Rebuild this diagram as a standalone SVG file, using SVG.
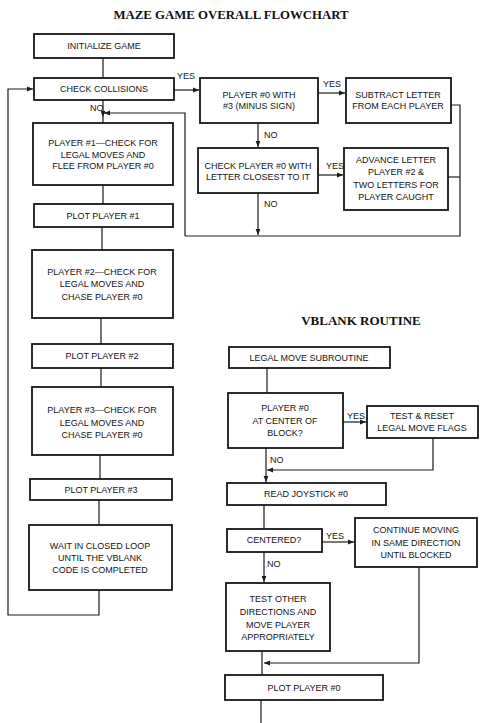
<svg xmlns="http://www.w3.org/2000/svg" width="481" height="723" viewBox="0 0 481 723">
<style>
.bg{fill:#ffffff}
.box{fill:#ffffff;stroke:#161616;stroke-width:1.8}
.ln{fill:none;stroke:#1c1c1c;stroke-width:1.2}
.t{font-family:"Liberation Sans",Arial,sans-serif;font-size:9px;fill:#141414;text-anchor:middle}
.lb{font-family:"Liberation Sans",Arial,sans-serif;font-size:9px;fill:#141414}
.title{font-family:"Liberation Serif","Times New Roman",serif;font-weight:bold;fill:#111;text-anchor:middle}
</style>
<defs>
<marker id="ar" viewBox="0 0 10 10" refX="10" refY="5" markerWidth="7" markerHeight="6" orient="auto" markerUnits="userSpaceOnUse">
<path d="M0,1 L10,5 L0,9 z" fill="#1c1c1c"/>
</marker>
</defs>
<rect class="bg" x="0" y="0" width="481" height="723"/>
<text class="title" x="231" y="19" font-size="12.8">MAZE GAME OVERALL FLOWCHART</text>
<text class="title" x="361" y="325" font-size="13">VBLANK ROUTINE</text>

<g id="connectors">
<path class="ln" d="M103,58 V78"/>
<path class="ln" d="M103,100 V117" marker-end="url(#ar)"/>
<path class="ln" d="M103,117 V123"/>
<path class="ln" d="M185,236 V113 H104" marker-end="url(#ar)"/>
<path class="ln" d="M174,90 H199" marker-end="url(#ar)"/>
<path class="ln" d="M318,93 H345" marker-end="url(#ar)"/>
<path class="ln" d="M258,123 V147" marker-end="url(#ar)"/>
<path class="ln" d="M318,175 H343" marker-end="url(#ar)"/>
<path class="ln" d="M258,193 V235" marker-end="url(#ar)"/>
<path class="ln" d="M451,105 H460 V236 H185"/>
<path class="ln" d="M448,177 H460"/>
<path class="ln" d="M103,185 V204"/>
<path class="ln" d="M102,227 V250"/>
<path class="ln" d="M101,318 V344"/>
<path class="ln" d="M101,368 V387"/>
<path class="ln" d="M100,455 V479"/>
<path class="ln" d="M99,500 V525"/>
<path class="ln" d="M99,590 V615 H8 V89 H33" marker-end="url(#ar)"/>
<path class="ln" d="M267,368 V393"/>
<path class="ln" d="M343,422 H366" marker-end="url(#ar)"/>
<path class="ln" d="M433,438 V470 H267" marker-end="url(#ar)"/>
<path class="ln" d="M266,448 V482" marker-end="url(#ar)"/>
<path class="ln" d="M264,505 V529"/>
<path class="ln" d="M322,542 H354" marker-end="url(#ar)"/>
<path class="ln" d="M264,552 V582" marker-end="url(#ar)"/>
<path class="ln" d="M419,567 V663 H264" marker-end="url(#ar)"/>
<path class="ln" d="M262,651 V675"/>
<path class="ln" d="M261,700 V723"/>
<text class="lb" x="177" y="79">YES</text>
<text class="lb" x="90" y="111">NO</text>
<text class="lb" x="323" y="87">YES</text>
<text class="lb" x="264" y="138">NO</text>
<text class="lb" x="326" y="169">YES</text>
<text class="lb" x="264" y="207">NO</text>
<text class="lb" x="347" y="419">YES</text>
<text class="lb" x="270" y="463">NO</text>
<text class="lb" x="326" y="539">YES</text>
<text class="lb" x="267" y="567">NO</text>
</g>

<g id="n-init"><rect class="box" x="34" y="34" width="140" height="24"/><text class="t" x="104" y="49">INITIALIZE GAME</text></g>
<g id="n-collisions"><rect class="box" x="34" y="78" width="140" height="22"/><text class="t" x="104" y="92">CHECK COLLISIONS</text></g>
<g id="n-p1"><rect class="box" x="33" y="123" width="140" height="62"/><text class="t" x="103" y="146">PLAYER #1—CHECK FOR</text><text class="t" x="103" y="158">LEGAL MOVES AND</text><text class="t" x="103" y="169">FLEE FROM PLAYER #0</text></g>
<g id="n-plot1"><rect class="box" x="34" y="204" width="139" height="23"/><text class="t" x="103" y="219">PLOT PLAYER #1</text></g>
<g id="n-p2"><rect class="box" x="32" y="250" width="141" height="68"/><text class="t" x="102" y="275">PLAYER #2—CHECK FOR</text><text class="t" x="102" y="287">LEGAL MOVES AND</text><text class="t" x="102" y="300">CHASE PLAYER #0</text></g>
<g id="n-plot2"><rect class="box" x="32" y="344" width="141" height="24"/><text class="t" x="102" y="359">PLOT PLAYER #2</text></g>
<g id="n-p3"><rect class="box" x="32" y="387" width="141" height="68"/><text class="t" x="102" y="413">PLAYER #3—CHECK FOR</text><text class="t" x="102" y="426">LEGAL MOVES AND</text><text class="t" x="102" y="438">CHASE PLAYER #0</text></g>
<g id="n-plot3"><rect class="box" x="30" y="479" width="142" height="21"/><text class="t" x="101" y="493">PLOT PLAYER #3</text></g>
<g id="n-wait"><rect class="box" x="29" y="525" width="143" height="65"/><text class="t" x="100" y="549">WAIT IN CLOSED LOOP</text><text class="t" x="100" y="561">UNTIL THE VBLANK</text><text class="t" x="100" y="573">CODE IS COMPLETED</text></g>

<g id="n-minus"><rect class="box" x="200" y="78" width="118" height="45"/><text class="t" x="259" y="98">PLAYER #0 WITH</text><text class="t" x="259" y="109">#3 (MINUS SIGN)</text></g>
<g id="n-subtract"><rect class="box" x="346" y="78" width="105" height="45"/><text class="t" x="398" y="98">SUBTRACT LETTER</text><text class="t" x="398" y="109">FROM EACH PLAYER</text></g>
<g id="n-checkletter"><rect class="box" x="198" y="148" width="120" height="45"/><text class="t" x="258" y="169">CHECK PLAYER #0 WITH</text><text class="t" x="258" y="180">LETTER CLOSEST TO IT</text></g>
<g id="n-advance"><rect class="box" x="344" y="148" width="104" height="62"/><text class="t" x="396" y="163">ADVANCE LETTER</text><text class="t" x="396" y="175">PLAYER #2 &amp;</text><text class="t" x="396" y="188">TWO LETTERS FOR</text><text class="t" x="396" y="200">PLAYER CAUGHT</text></g>

<g id="n-legal"><rect class="box" x="229" y="347" width="161" height="21"/><text class="t" x="309" y="361">LEGAL MOVE SUBROUTINE</text></g>
<g id="n-center"><rect class="box" x="228" y="393" width="115" height="55"/><text class="t" x="285" y="411">PLAYER #0</text><text class="t" x="285" y="424">AT CENTER OF</text><text class="t" x="285" y="436">BLOCK?</text></g>
<g id="n-reset"><rect class="box" x="367" y="406" width="111" height="32"/><text class="t" x="422" y="419">TEST &amp; RESET</text><text class="t" x="422" y="431">LEGAL MOVE FLAGS</text></g>
<g id="n-joystick"><rect class="box" x="227" y="483" width="159" height="22"/><text class="t" x="306" y="497">READ JOYSTICK #0</text></g>
<g id="n-centered"><rect class="box" x="227" y="529" width="95" height="23"/><text class="t" x="274" y="543">CENTERED?</text></g>
<g id="n-continue"><rect class="box" x="355" y="518" width="122" height="49"/><text class="t" x="416" y="533">CONTINUE MOVING</text><text class="t" x="416" y="546">IN SAME DIRECTION</text><text class="t" x="416" y="558">UNTIL BLOCKED</text></g>
<g id="n-testother"><rect class="box" x="226" y="583" width="104" height="68"/><text class="t" x="278" y="602">TEST OTHER</text><text class="t" x="278" y="615">DIRECTIONS AND</text><text class="t" x="278" y="628">MOVE PLAYER</text><text class="t" x="278" y="640">APPROPRIATELY</text></g>
<g id="n-plot0"><rect class="box" x="225" y="675" width="158" height="25"/><text class="t" x="304" y="691">PLOT PLAYER #0</text></g>
</svg>
